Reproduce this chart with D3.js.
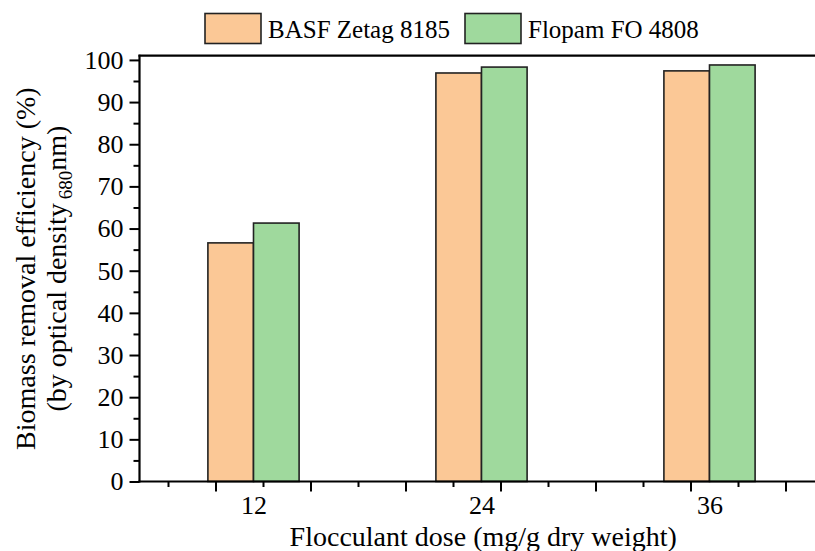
<!DOCTYPE html>
<html><head><meta charset="utf-8">
<script src="https://cdn.jsdelivr.net/npm/d3@7/dist/d3.min.js"></script>
<style>
html,body{margin:0;padding:0;background:#fff;}
svg text{font-family:"Times New Roman","Liberation Serif",Tinos,"DejaVu Serif",serif !important;}
</style></head>
<body><svg id="c" width="815" height="551"></svg>
<script>
const doses = [12, 24, 36];
const seriesNames = ["BASF Zetag 8185", "Flopam FO 4808"];
const zetag = [56.6, 96.9, 97.4];
const flopam = [61.3, 98.3, 98.8];
const seriesColors = ["#fbc896", "#9fd99d"];
const yMajorTicks = [0,10,20,30,40,50,60,70,80,90,100];
const yMinorTicks = [5,15,25,35,45,55,65,75,85,95];
const xMajorTicks = [10,15,20,25,30,35,40];
const xMinorTicks = [7.5,12.5,17.5,22.5,27.5,32.5,37.5];
const barWidth = 2.4;

const svg = d3.select("#c");
const x = d3.scaleLinear().domain([6, 41.6]).range([139.5, 815.9]);
const y = d3.scaleLinear().domain([0, 101]).range([481.5, 55.7]);

const series = [zetag, flopam];
series.forEach((vals, si) => {
  svg.append("g").selectAll("rect").data(doses).join("rect")
    .attr("x", (d) => si === 0 ? x(d - barWidth) : x(d))
    .attr("width", x(d3.min(doses) + barWidth) - x(d3.min(doses)))
    .attr("y", (d, i) => y(vals[i]))
    .attr("height", (d, i) => y(0) - y(vals[i]))
    .attr("fill", seriesColors[si])
    .attr("stroke", "#222").attr("stroke-width", 1.6);
});

// Y axis
const yAxisG = svg.append("g").attr("transform", `translate(${x(6)},0)`);
yAxisG.call(d3.axisLeft(y).tickValues(yMajorTicks).tickSize(10).tickPadding(6).tickFormat(d3.format("d")));
yAxisG.append("g").call(d3.axisLeft(y).tickValues(yMinorTicks).tickSize(6).tickFormat(""));
yAxisG.selectAll("path.domain").remove();
yAxisG.selectAll("line").attr("stroke", "#000").attr("stroke-width", 2);
yAxisG.selectAll("text").attr("font-size", 26).attr("fill", "#000");

// X axis
const xAxisG = svg.append("g").attr("transform", `translate(0,${y(0)})`);
xAxisG.append("g").call(d3.axisBottom(x).tickValues(xMajorTicks).tickSize(10).tickFormat(""));
xAxisG.append("g").call(d3.axisBottom(x).tickValues(xMinorTicks).tickSize(5.5).tickFormat(""));
xAxisG.append("g").call(d3.axisBottom(x).tickValues(doses).tickSize(0).tickPadding(14).tickFormat(d3.format("d")));
xAxisG.selectAll("path.domain").remove();
xAxisG.selectAll("line").attr("stroke", "#000").attr("stroke-width", 2);
xAxisG.selectAll("text").attr("font-size", 26).attr("fill", "#000");

// frame lines (left, bottom, top)
svg.append("line").attr("x1", x(6)).attr("x2", x(6)).attr("y1", y(101)-1).attr("y2", y(0)+1).attr("stroke","#000").attr("stroke-width",2.2);
svg.append("line").attr("x1", x(6)-1).attr("x2", 815).attr("y1", y(0)).attr("y2", y(0)).attr("stroke","#000").attr("stroke-width",2.2);
svg.append("line").attr("x1", x(6)-1).attr("x2", 815).attr("y1", y(101)).attr("y2", y(101)).attr("stroke","#000").attr("stroke-width",2.2);

// Axis titles
svg.append("text").attr("x", (x(6)+815)/2 + 6).attr("y", 545.5).attr("text-anchor","middle")
  .attr("font-size", 28).text("Flocculant dose (mg/g dry weight)");

const yt = svg.append("g").attr("transform", `translate(0,${(y(0)+y(101))/2}) rotate(-90)`);
yt.append("text").attr("x", 0).attr("y", 35).attr("text-anchor","middle").attr("font-size", 28)
  .text("Biomass removal efficiency (%)");
const t2 = yt.append("text").attr("x", 0).attr("y", 66).attr("text-anchor","middle").attr("font-size", 28);
t2.append("tspan").text("(by optical density");
t2.append("tspan").attr("font-size", 19).attr("dx", 4).attr("dy", 6).text("680");
t2.append("tspan").attr("dy", -6).text("nm)");

// Legend
const legend = svg.append("g");
const legX = [205, 465];
seriesNames.forEach((n, i) => {
  legend.append("rect").attr("x", legX[i]).attr("y", 13.5).attr("width", 56).attr("height", 30)
    .attr("fill", seriesColors[i]).attr("stroke", "#222").attr("stroke-width", 1.6);
  legend.append("text").attr("x", legX[i] + 63).attr("y", 38).attr("font-size", 25).text(n);
});
</script></body></html>
